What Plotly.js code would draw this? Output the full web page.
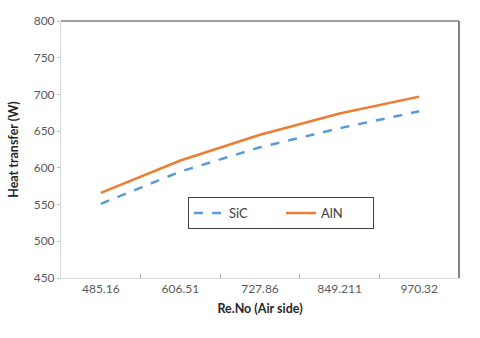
<!DOCTYPE html>
<html>
<head>
<meta charset="utf-8">
<script src="https://cdn.plot.ly/plotly-3.0.1.min.js"></script>
<style>
  body { margin: 0; background: #fff; }
  #chart { width: 480px; height: 338px; }
</style>
</head>
<body>
<div id="chart"></div>
<script>
// Reynolds numbers on the air side (category labels)
const reynolds = ['485.16', '606.51', '727.86', '849.211', '970.32'];

// Heat transfer (W)
const sicHeat = [551, 595, 628, 654, 677];
const alnHeat = [566, 610, 645, 674, 697];

const sicTrace = {
    name: 'SiC',
    x: reynolds,
    y: sicHeat,
    type: 'scatter',
    mode: 'lines',
    line: { color: '#5B9BD5', width: 2.5, dash: 'dash' }
};

const alnTrace = {
    name: 'AlN',
    x: reynolds,
    y: alnHeat,
    type: 'scatter',
    mode: 'lines',
    line: { color: '#ED7D31', width: 2.5 }
};

const layout = {
    width: 480,
    height: 338,
    margin: { l: 61, r: 21, t: 21, b: 60 },
    paper_bgcolor: '#fff',
    plot_bgcolor: '#fff',
    font: { family: 'Lato, sans-serif', size: 12, color: '#595959' },
    showlegend: true,
    legend: {
        orientation: 'h',
        x: 0.319,
        y: 0.315,
        xanchor: 'left',
        yanchor: 'top',
        bgcolor: '#fff',
        bordercolor: '#404040',
        borderwidth: 1,
        entrywidth: 47,
        font: { size: 13, color: '#404040' }
    },
    xaxis: {
        type: 'category',
        range: [-0.5, 4.5],
        showgrid: false,
        zeroline: false,
        showline: true,
        linecolor: '#D9D9D9',
        linewidth: 1,
        ticks: 'inside',
        ticklen: 4,
        tickcolor: '#A6A6A6',
        tickson: 'boundaries',
        tickfont: { size: 12, color: '#595959' },
        title: { text: 'Re.No (Air side)', font: { size: 12.5, color: '#262626', weight: 'bold' }, standoff: 8 }
    },
    yaxis: {
        range: [450, 800],
        dtick: 50,
        showgrid: false,
        zeroline: false,
        showline: true,
        linecolor: '#D9D9D9',
        linewidth: 1,
        ticks: 'outside',
        ticklen: 3,
        tickcolor: '#BFBFBF',
        tickfont: { size: 12, color: '#595959' },
        title: { text: 'Heat transfer (W)', font: { size: 12.5, color: '#262626', weight: 'bold' }, standoff: 12 }
    },
    shapes: [
        // darker top and right frame lines
        { type: 'line', xref: 'paper', yref: 'paper', x0: 0, x1: 1, y0: 1, y1: 1, line: { color: '#7F7F7F', width: 1.5 } },
        { type: 'line', xref: 'paper', yref: 'paper', x0: 1, x1: 1, y0: 0, y1: 1, line: { color: '#595959', width: 1.5 } }
    ]
};

Plotly.newPlot('chart', [sicTrace, alnTrace], layout, { displayModeBar: false, staticPlot: true });
</script>
</body>
</html>
